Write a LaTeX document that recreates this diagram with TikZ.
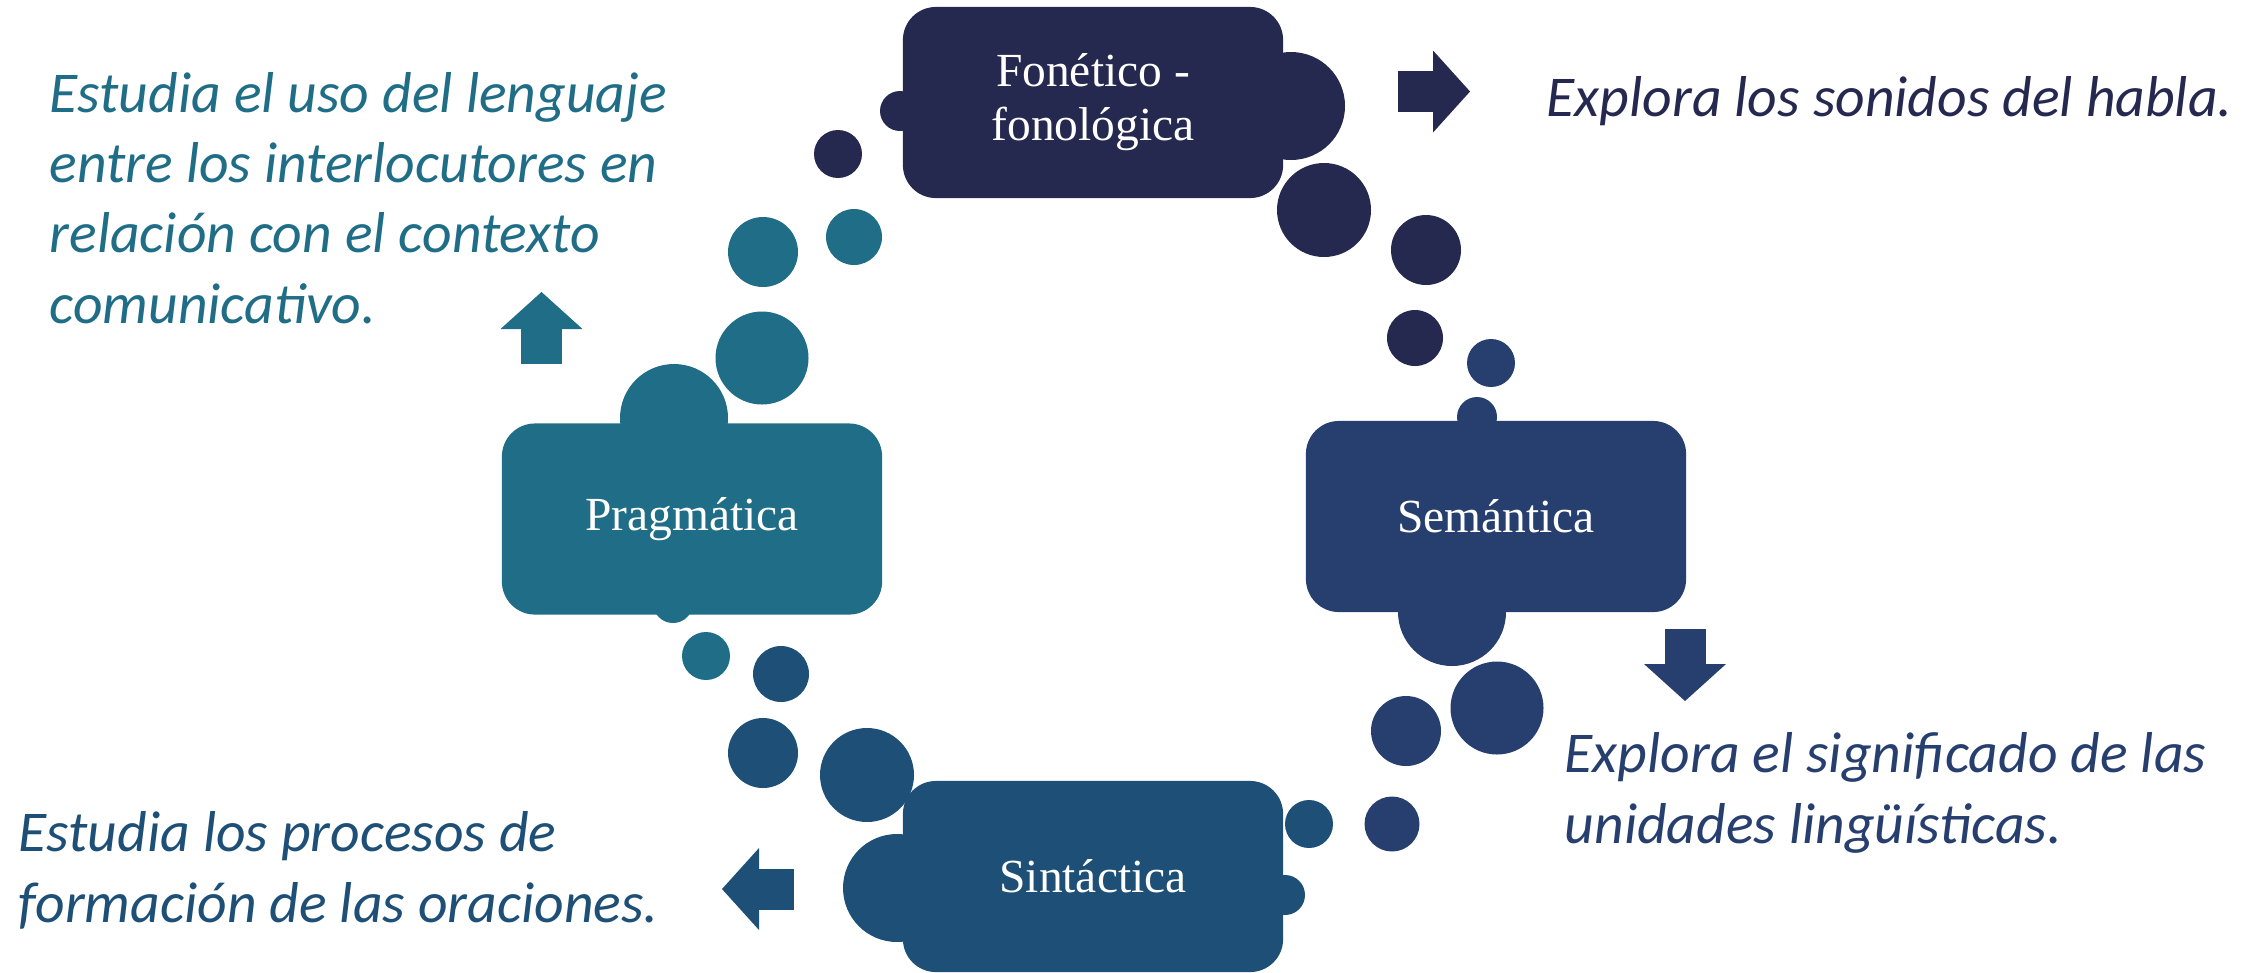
\documentclass[tikz,border=0pt]{standalone}
\usepackage{fontspec}
\setmainfont{Liberation Serif}
\newfontfamily\descfont{Carlito}
\usetikzlibrary{positioning}

\definecolor{fonC}{HTML}{25284F}
\definecolor{semC}{HTML}{273F6E}
\definecolor{sinC}{HTML}{1E4F76}
\definecolor{praC}{HTML}{1F6D86}

\tikzset{
  levelbox/.style={fill=#1, rounded corners=0.33cm, minimum width=3.8cm,
    minimum height=1.91cm, inner sep=0pt, text=white, align=center,
    font=\fontsize{13.5}{15.4}\selectfont},
  desc/.style={text=#1, inner sep=0pt, anchor=base west, align=left,
    font=\descfont\itshape\fontsize{16.4}{20}\selectfont},
  pics/blockarr/.style={code={
    \fill (0,-20.5) rectangle (35,20.5);
    \fill (35,-41) -- (72,0) -- (35,41) -- cycle;}}
}

\begin{document}
\begin{tikzpicture}[x=0.01cm,y=-0.01cm]
\useasboundingbox (0,0) rectangle (2267,972);

% the four levels
\node[levelbox=fonC] (fon) at (1093,102.5) {Fonético -\\fonológica};
\node[levelbox=semC] (sem) at (1496,516.5) {Semántica};
\node[levelbox=sinC] (sin) at (1093,876.5) {Sintáctica};
\node[levelbox=praC] (pra) at (692,519) {Pragmática};

% bumps stuck to the boxes
\fill[fonC] (1291,106) circle[radius=54] (900,111) circle[radius=20];
\fill[semC] (1477,417) circle[radius=20] (1452,612) circle[radius=54];
\fill[sinC] (897,888) circle[radius=54] (1285,895) circle[radius=20];
\fill[praC] (674,418) circle[radius=54] (673,603) circle[radius=20];

% loose bubbles
\foreach \p/\r in {(1324,210)/47, (1426,250)/35, (1415,338)/28, (838,154)/24}
  \fill[fonC] \p circle[radius=\r];
\foreach \p/\r in {(1491,363)/24, (1497,708)/46.5, (1406,731)/35, (1392,824)/27.5}
  \fill[semC] \p circle[radius=\r];
\foreach \p/\r in {(1309,824)/24, (781,674)/28, (763,753)/35, (867,775)/47}
  \fill[sinC] \p circle[radius=\r];
\foreach \p/\r in {(706,656)/24, (763,252)/35, (854,237)/28, (762,358)/46.5}
  \fill[praC] \p circle[radius=\r];

% block arrows
\pic[color=fonC] at (1398,91.5) {blockarr};
\pic[color=semC, rotate=-90] at (1685,629) {blockarr};
\pic[color=sinC, rotate=180] at (794,889) {blockarr};
\pic[color=praC, rotate=90] at (541.5,364) {blockarr};

% descriptions (anchored on their last line)
\node[desc=fonC] (fondesc) at (1546,116) {Explora los sonidos del habla.};
\node[desc=semC] (semdesc) at (1564,843)
  {Explora el significado de las\\unidades lingüísticas.};
\node[desc=sinC] (sindesc) at (18,922)
  {Estudia los procesos de\\formación de las oraciones.};
\node[desc=praC] (pradesc) at (49,323)
  {Estudia el uso del lenguaje\\entre los interlocutores en\\relación con el contexto\\comunicativo.};
\end{tikzpicture}
\end{document}
